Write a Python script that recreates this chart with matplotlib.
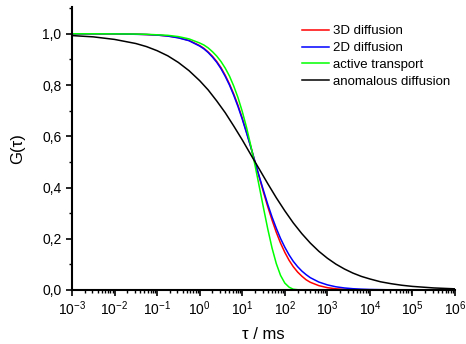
import matplotlib
matplotlib.use("Agg")
import matplotlib.pyplot as plt
from matplotlib.ticker import LogLocator, MultipleLocator, FuncFormatter, NullFormatter

plt.rcParams["font.family"] = ["Liberation Sans", "DejaVu Sans"]
plt.rcParams["mathtext.fontset"] = "custom"
plt.rcParams["mathtext.rm"] = "Liberation Sans"
plt.rcParams["mathtext.it"] = "Liberation Sans:italic"

# lag times (ms) for the diffusion / transport curves
tau = [0.001, 0.00316, 0.01, 0.0316, 0.0562, 0.1, 0.178, 0.316, 0.562, 1,
       1.26, 1.58, 2.00, 2.51, 3.16, 3.98, 5.01, 6.31, 7.94, 10,
       12.6, 15.8, 20.0, 25.1, 31.6, 39.8, 50.1, 63.1, 79.4, 100,
       126, 158, 200, 251, 316, 398, 631, 1000, 1585, 2512,
       3981, 6310, 10000, 31623, 1e5, 3.16e5, 1e6]

g_3d = [1.000, 1.000, 0.9995, 0.9985, 0.997, 0.995, 0.9915, 0.985, 0.974, 0.954,
        0.943, 0.929, 0.912, 0.892, 0.868, 0.838, 0.804, 0.765, 0.721, 0.671,
        0.617, 0.560, 0.499, 0.440, 0.381, 0.325, 0.273, 0.225, 0.183, 0.147,
        0.116, 0.091, 0.070, 0.054, 0.040, 0.030, 0.017, 0.009, 0.0046, 0.0024,
        0.0012, 0.0006, 0.0003, 0.0001, 0.0, 0.0, 0.0]

g_2d = [1.000, 1.000, 1.000, 0.998, 0.997, 0.995, 0.991, 0.984, 0.973, 0.952,
        0.941, 0.927, 0.909, 0.889, 0.864, 0.834, 0.800, 0.760, 0.716, 0.667,
        0.613, 0.559, 0.500, 0.443, 0.388, 0.334, 0.285, 0.241, 0.201, 0.167,
        0.137, 0.112, 0.091, 0.074, 0.060, 0.048, 0.031, 0.020, 0.0125, 0.0079,
        0.0050, 0.0032, 0.0020, 0.0006, 0.0002, 0.0001, 0.0]

g_active = [1.000, 1.000, 0.9996, 0.9989, 0.998, 0.996, 0.994, 0.989, 0.980, 0.964,
            0.956, 0.945, 0.930, 0.913, 0.892, 0.866, 0.835, 0.796, 0.751, 0.697,
            0.635, 0.565, 0.486, 0.404, 0.320, 0.238, 0.164, 0.103, 0.057, 0.027,
            0.011, 0.003, 0.001, 0.0, 0.0, 0.0, 0.0, 0.0, 0.0, 0.0,
            0.0, 0.0, 0.0, 0.0, 0.0, 0.0, 0.0]

# anomalous diffusion sampled on its own grid
tau_anom = [0.001, 0.00316, 0.01, 0.0316, 0.0562, 0.1, 0.178, 0.316, 0.562, 1,
            1.58, 2.51, 3.98, 6.31, 10, 15.8, 25.1, 39.8, 63.1, 100,
            158, 251, 398, 631, 1000, 1585, 2512, 3981, 6310, 10000,
            17783, 31623, 56234, 1e5, 3.16e5, 1e6]
g_anom = [0.993, 0.988, 0.978, 0.962, 0.950, 0.934, 0.914, 0.888, 0.856, 0.817,
          0.781, 0.738, 0.692, 0.640, 0.586, 0.529, 0.472, 0.415, 0.360, 0.309,
          0.262, 0.220, 0.183, 0.151, 0.124, 0.101, 0.082, 0.066, 0.053, 0.043,
          0.032, 0.0245, 0.0185, 0.014, 0.008, 0.0045]

fig = plt.figure(figsize=(4.66, 3.44), dpi=100)
ax = fig.add_axes([0.1545, 0.157, 0.822, 0.823])

lw = 1.1
ax.plot(tau, g_3d, color="#ff0000", lw=lw, label="3D diffusion")
ax.plot(tau, g_2d, color="#0000ff", lw=lw, label="2D diffusion")
ax.plot(tau, g_active, color="#00ff00", lw=lw, label="active transport")
ax.plot(tau_anom, g_anom, color="black", lw=lw, label="anomalous diffusion")

ax.set_xscale("log")
ax.set_xlim(1e-3, 1e6)
ax.set_ylim(0, 1.105)

ax.spines["top"].set_visible(False)
ax.spines["right"].set_visible(False)
ax.spines["left"].set_linewidth(1.5)
ax.spines["bottom"].set_linewidth(1.5)

ax.xaxis.set_major_locator(LogLocator(base=10, numticks=20))
ax.xaxis.set_minor_locator(LogLocator(base=10, subs=range(2, 10), numticks=20))
ax.xaxis.set_minor_formatter(NullFormatter())
ax.yaxis.set_major_locator(MultipleLocator(0.2))
ax.yaxis.set_minor_locator(MultipleLocator(0.1))
ax.yaxis.set_major_formatter(FuncFormatter(lambda v, p: f"{v:.1f}".replace(".", ",")))

ax.tick_params(which="major", direction="out", length=4.5, width=1.2, labelsize=10, colors="black")
ax.tick_params(which="minor", direction="out", length=2.5, width=1.0)
ax.tick_params(axis="x", which="major", pad=2)
ax.tick_params(axis="y", which="major", pad=3)

ax.set_xlabel("τ / ms", fontsize=12, labelpad=7)
ax.set_ylabel("G(τ)", fontsize=12, labelpad=12)

ax.legend(loc="upper right", frameon=False, fontsize=9.5, handlelength=2.0,
          handletextpad=0.3, labelspacing=0.36, borderaxespad=0.0,
          bbox_to_anchor=(1.0, 0.955))

fig.savefig("out.png", dpi=100)
